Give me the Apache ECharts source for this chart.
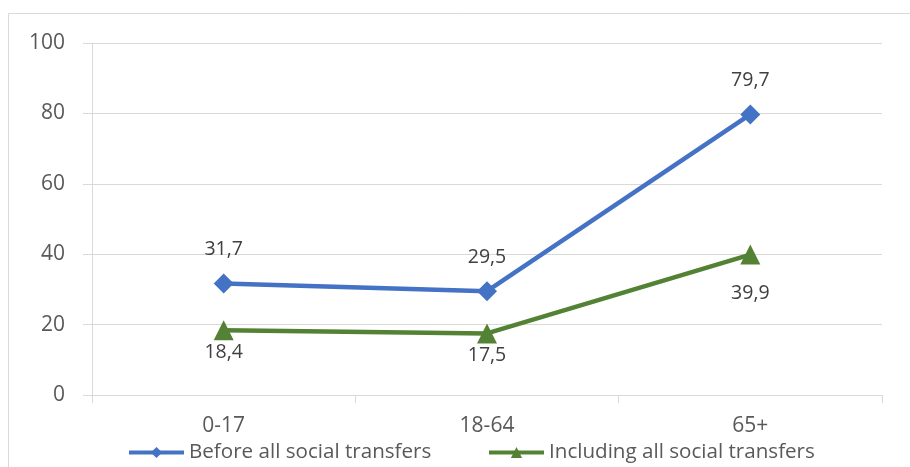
<!DOCTYPE html>
<html><head><meta charset="utf-8">
<script src="https://cdn.jsdelivr.net/npm/echarts@6/dist/echarts.min.js"></script>
<style>html,body{margin:0;padding:0;background:#fff}#c{width:910px;height:467px}</style>
</head><body><div id="c"></div>
<script>
const categories = ['0-17', '18-64', '65+'];
const beforeTransfers = [31.7, 29.5, 79.7];
const includingTransfers = [18.4, 17.5, 39.9];
const seriesNames = ['Before all social transfers', 'Including all social transfers'];

const FONT = 'Open Sans';
const fmt = p => String(p.value).replace('.', ',');
const chart = echarts.init(document.getElementById('c'), null, {renderer: 'canvas'});
const legendCommon = {top: 442, padding: 0, itemWidth: 55, itemHeight: 14, itemGap: 4,
  lineStyle: {width: 4}, textStyle: {fontFamily: FONT, fontSize: 20.6, color: '#595959'}};
chart.setOption({
  backgroundColor: '#fff',
  animation: false,
  textStyle: {fontFamily: FONT},
  graphic: [{type: 'rect', shape: {x: 8.5, y: 13.5, width: 1000, height: 1000}, style: {fill: 'none', stroke: '#d9d9d9', lineWidth: 1}, silent: true}],
  grid: {left: 92, right: 28, top: 43, bottom: 72},
  legend: [
    Object.assign({data: [seriesNames[0]], left: 127}, legendCommon),
    Object.assign({data: [seriesNames[1]], left: 487}, legendCommon)
  ],
  xAxis: {
    type: 'category', data: categories, boundaryGap: true,
    axisLine: {lineStyle: {color: '#d9d9d9', width: 1}},
    axisTick: {show: true, length: 8, lineStyle: {color: '#d9d9d9'}},
    axisLabel: {fontFamily: FONT, fontSize: 21, color: '#595959', margin: 21}
  },
  yAxis: {
    type: 'value', min: 0, max: 100, interval: 20,
    axisLine: {show: true, lineStyle: {color: '#d9d9d9', width: 1}},
    axisTick: {show: true, length: 9, lineStyle: {color: '#d9d9d9'}},
    splitLine: {lineStyle: {color: '#d9d9d9', width: 1}},
    axisLabel: {fontFamily: FONT, fontSize: 21, color: '#595959', margin: 27}
  },
  series: [
    {
      name: seriesNames[0], type: 'line', data: beforeTransfers,
      symbol: 'diamond', symbolSize: 20,
      lineStyle: {color: '#4472c4', width: 4.5}, itemStyle: {color: '#4472c4'},
      label: {show: true, position: 'top', distance: 14, formatter: fmt, fontFamily: FONT, fontSize: 19.5, color: '#404040'},
      z: 3
    },
    {
      name: seriesNames[1], type: 'line',
      data: includingTransfers.map((v, i) => ({value: v, label: {distance: i === 2 ? 19 : 2}})),
      symbol: 'triangle', symbolSize: 20,
      lineStyle: {color: '#548235', width: 4.5}, itemStyle: {color: '#548235'},
      label: {show: true, position: 'bottom', formatter: fmt, fontFamily: FONT, fontSize: 19.5, color: '#404040'},
      z: 3
    }
  ]
});
</script></body></html>
